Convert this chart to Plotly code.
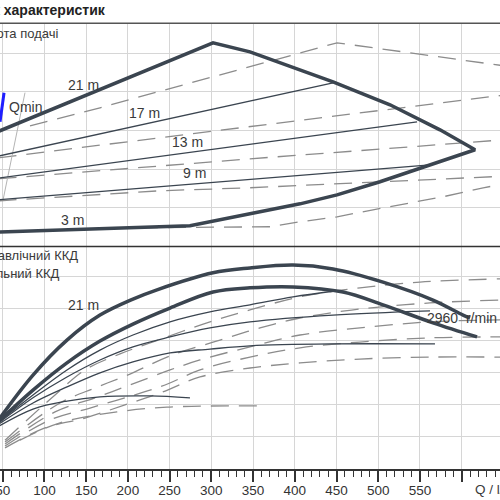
import plotly.graph_objects as go

# Flow Q / l/s, head H / m (top), efficiency ETA / % (bottom)
Q_RANGE = [46.76, 645.9]
Q_TICKS = [50, 100, 150, 200, 250, 300, 350, 400, 450, 500, 550, 600]
Q_TICK_TEXT = ['50', '100', '150', '200', '250', '300', '350', '400', '450', '500', '550', '']

# operating range outline (21 m line, max speed curve, min speed curve, 3 m line)
ENV_Q = [45, 302.0, 346.3, 445.8, 514.1, 574.0, 616.0, 562.0, 502.1, 450.6, 406.3, 346.3, 274.4, 45]
ENV_H = [11.9, 21.05, 20.12, 17.02, 14.65, 12.06, 10.0, 8.44, 6.69, 5.34, 4.41, 3.38, 2.14, 1.5]

H17_Q = [45, 445.8]
H17_H = [9.35, 16.92]
H13_Q = [45, 546.5]
H13_H = [7.08, 12.89]
H9_Q = [45, 562.0]
H9_H = [4.83, 8.44]

QMIN_Q = [46.8, 51.6]
QMIN_H = [12.9, 15.9]
QMIN_GRAY_Q = [50.4, 76.7]
QMIN_GRAY_H = [4.8, 15.9]

# dashed head curves
D1_Q = [82.7, 166.6, 236.1, 346.3, 406.3, 450.6, 538.1, 646.0]
D1_H = [12.47, 14.34, 15.99, 18.57, 20.02, 21.05, 20.02, 18.73]
D2_Q = [45, 646]
D2_H = [9.17, 15.6]
D3_Q = [45, 346.3, 646]
D3_H = [7.0, 9.06, 11.0]
D4_Q = [45, 238.5, 346.3, 646]
D4_H = [4.72, 5.76, 6.07, 7.25]
D5_Q = [214.5, 370.3, 406.3, 450.6, 493.7, 538.1, 577.6, 625.7, 646]
D5_H = [1.93, 2.04, 2.55, 3.07, 3.79, 4.52, 5.14, 6.07, 6.38]

# efficiency curves
E1_Q = [45, 86.3, 127.0, 166.6, 206.1, 234.9, 302.0, 346.3, 397.9, 445.8, 505.7, 565.6, 601.6, 610.0]
E1_ETA = [15.3, 29.3, 40.2, 48.0, 53.0, 55.9, 61.2, 62.7, 63.6, 62.4, 58.3, 52.7, 48.0, 47.1]
E2_Q = [45, 86.3, 127.0, 166.6, 206.1, 250.5, 302.0, 346.3, 397.9, 457.8, 505.7, 565.6, 618.4]
E2_ETA = [14.8, 24.6, 33.1, 39.9, 45.2, 50.2, 55.2, 56.5, 56.8, 55.2, 51.2, 45.6, 41.2]

T1_Q = [45, 86.3, 127.0, 166.6, 206.1, 250.5, 298.4, 346.3, 397.9, 450.6]
T1_ETA = [14.6, 23.1, 30.9, 37.1, 41.8, 45.9, 49.0, 51.2, 53.7, 55.6]
T2_Q = [45, 86.3, 127.0, 166.6, 206.1, 250.5, 298.4, 346.3, 445.8, 562.0]
T2_ETA = [14.3, 22.2, 28.7, 34.0, 38.1, 41.2, 44.0, 45.9, 48.0, 49.3]
T3_Q = [45, 86.3, 127.0, 166.6, 206.1, 250.5, 298.4, 346.3, 442.2, 568.0]
T3_ETA = [14.0, 20.6, 25.6, 30.0, 33.4, 36.2, 37.4, 38.4, 39.0, 39.0]
T4_Q = [45, 86.3, 127.0, 166.6, 226.5, 274.4]
T4_ETA = [13.3, 18.7, 21.2, 22.5, 22.8, 22.2]

DD1_Q = [52.8, 112.7, 148.6, 190.6, 226.5, 298.4, 346.3, 406.3, 478.1, 550.0, 646.0]
DD1_ETA = [9.0, 23.1, 30.9, 35.9, 39.3, 45.9, 49.6, 53.7, 56.5, 58.3, 59.3]
DD2_Q = [52.8, 118.7, 160.6, 202.5, 250.5, 310.4, 358.3, 406.3, 478.1, 562.0, 646.0]
DD2_ETA = [8.4, 20.6, 25.3, 29.6, 35.3, 40.2, 44.0, 47.1, 49.9, 51.8, 52.7]
DD3_Q = [52.8, 112.7, 160.6, 202.5, 250.5, 286.4, 346.3, 406.3, 478.1, 562.0, 646.0]
DD3_ETA = [7.8, 17.8, 22.2, 26.2, 30.9, 34.0, 38.1, 41.8, 44.0, 45.9, 46.5]
DD4_Q = [52.8, 106.7, 154.6, 196.5, 244.5, 286.4, 346.3, 406.3, 478.1, 562.0, 646.0]
DD4_ETA = [7.2, 15.3, 19.0, 22.2, 26.2, 30.9, 34.9, 37.8, 39.6, 40.9, 41.2]
DD5_Q = [52.8, 100.7, 148.6, 196.5, 238.5, 286.4, 346.3, 406.3, 478.1, 562.0, 646.0]
DD5_ETA = [6.6, 12.8, 15.9, 20.0, 23.7, 28.7, 31.5, 33.1, 34.3, 34.9, 34.9]
DD6_Q = [70.7, 118.7, 187.0, 246.9, 361.9]
DD6_ETA = [9.0, 14.4, 17.8, 19.3, 19.7]

DARK = '#3b4550'
DASH_GRAY = '#8c8c8c'
GRID = '#d6d6d6'
TEXT = '#3a3a3a'
FONT = 'Liberation Sans, Arial, sans-serif'


def line(q, v, top, width, color=DARK, dash='solid', shape='linear'):
    return go.Scatter(x=q, y=v, mode='lines',
                      xaxis='x' if top else 'x2', yaxis='y' if top else 'y2',
                      line=dict(color=color, width=width, dash=dash, shape=shape),
                      hoverinfo='skip', showlegend=False)


def label(text, x, y, yref, anchor='center', size=14):
    return dict(text=text, x=x, y=y, xref='x' if yref == 'y' else 'x2', yref=yref,
                xanchor=anchor, yanchor='middle', showarrow=False,
                font=dict(family=FONT, size=size, color=TEXT))


def paper_label(text, px, py, anchor, size=13, bold=False):
    if bold:
        text = '<b>' + text + '</b>'
    return dict(text=text, x=px / 500, y=1 - py / 500, xref='paper', yref='paper',
                xanchor=anchor, yanchor='middle', showarrow=False,
                font=dict(family=FONT, size=size, color='#222' if bold else TEXT))


dash = '18px,10px'
fig = go.Figure()

# head panel
for q, h in [(D1_Q, D1_H), (D2_Q, D2_H), (D3_Q, D3_H), (D4_Q, D4_H), (D5_Q, D5_H)]:
    fig.add_trace(line(q, h, True, 1.3, DASH_GRAY, dash))
fig.add_trace(line(QMIN_GRAY_Q, QMIN_GRAY_H, True, 1, '#b4b4b4'))
for q, h in [(H17_Q, H17_H), (H13_Q, H13_H), (H9_Q, H9_H)]:
    fig.add_trace(line(q, h, True, 1.3))
fig.add_trace(line(ENV_Q, ENV_H, True, 3.5))
fig.add_trace(line(QMIN_Q, QMIN_H, True, 3, '#1f1fff'))

# efficiency panel
for q, e in [(DD1_Q, DD1_ETA), (DD2_Q, DD2_ETA), (DD3_Q, DD3_ETA),
             (DD4_Q, DD4_ETA), (DD5_Q, DD5_ETA), (DD6_Q, DD6_ETA)]:
    fig.add_trace(line(q, e, False, 1.3, DASH_GRAY, dash, 'spline'))
for q, e in [(T1_Q, T1_ETA), (T2_Q, T2_ETA), (T3_Q, T3_ETA), (T4_Q, T4_ETA)]:
    fig.add_trace(line(q, e, False, 1.3, shape='spline'))
fig.add_trace(line(E1_Q, E1_ETA, False, 3.5, shape='spline'))
fig.add_trace(line(E2_Q, E2_ETA, False, 3.5, shape='spline'))

annotations = [
    paper_label('Графік характеристик', 108, 10, 'right', 14, bold=True),
    paper_label('Висота подачі', 60, 33, 'right'),
    paper_label('Гідравлічний ККД', 80, 255, 'right'),
    paper_label('Загальний ККД', 62, 273, 'right'),
    paper_label('Q / l/s', 473, 489, 'left', 13.5),
    label('21 m', 147.4, 16.71, 'y'),
    label('17 m', 220.5, 13.82, 'y'),
    label('13 m', 272.0, 10.82, 'y'),
    label('9 m', 280.4, 7.62, 'y'),
    label('3 m', 134.2, 2.76, 'y'),
    label('Qmin', 55.1, 14.44, 'y', anchor='left'),
    label('21 m', 147.4, 51.2, 'y2'),
    label('2960  r/min', 600.4, 47.1, 'y2'),
]

fig.update_layout(
    width=500, height=500,
    margin=dict(l=0, r=0, t=0, b=0),
    paper_bgcolor='white', plot_bgcolor='white',
    hovermode=False, showlegend=False,
    font=dict(family=FONT, color=TEXT),
    xaxis=dict(domain=[0, 1], anchor='y', range=Q_RANGE, matches='x2',
               tickmode='array', tickvals=Q_TICKS, showticklabels=False, ticks='',
               showgrid=True, gridcolor=GRID, gridwidth=1, zeroline=False, showline=False,
               automargin=False),
    yaxis=dict(domain=[0.507, 0.9534], anchor='x', range=[0, 23.07],
               tickmode='linear', tick0=0, dtick=4, showticklabels=False, ticks='',
               showgrid=True, gridcolor=GRID, zeroline=False, showline=False, automargin=False),
    xaxis2=dict(domain=[0, 1], anchor='y2', range=Q_RANGE,
                tickmode='array', tickvals=Q_TICKS, ticktext=Q_TICK_TEXT,
                ticks='outside', ticklen=11, tickwidth=1.5, tickcolor='#333',
                minor=dict(tickmode='linear', tick0=0, dtick=10, ticks='outside',
                           ticklen=6, tickwidth=1, tickcolor='#333', showgrid=False),
                tickfont=dict(family=FONT, size=13.5, color='#333'),
                ticklabeloverflow='allow', ticklabelstandoff=-3,
                showgrid=True, gridcolor=GRID, gridwidth=1, zeroline=False,
                showline=True, linecolor='#333', linewidth=1.5, automargin=False),
    yaxis2=dict(domain=[0.062, 0.507], anchor='x2', range=[0, 69.4],
                tickmode='linear', tick0=0, dtick=10, showticklabels=False, ticks='',
                showgrid=True, gridcolor=GRID, zeroline=False, showline=False, automargin=False),
    annotations=annotations,
    shapes=[
        dict(type='line', xref='paper', yref='paper', x0=0, x1=1,
             y0=1 - 23.3 / 500, y1=1 - 23.3 / 500, line=dict(color='#555', width=1.5)),
        dict(type='line', xref='paper', yref='paper', x0=0, x1=1,
             y0=0.507, y1=0.507, line=dict(color='#333', width=1.5)),
    ],
)

# the page body has a default 8px margin; drop it so the 500x500 figure fills the window
fig.write_html("out.html", config={'displayModeBar': False},
               post_script="document.body.style.margin = '0';")
